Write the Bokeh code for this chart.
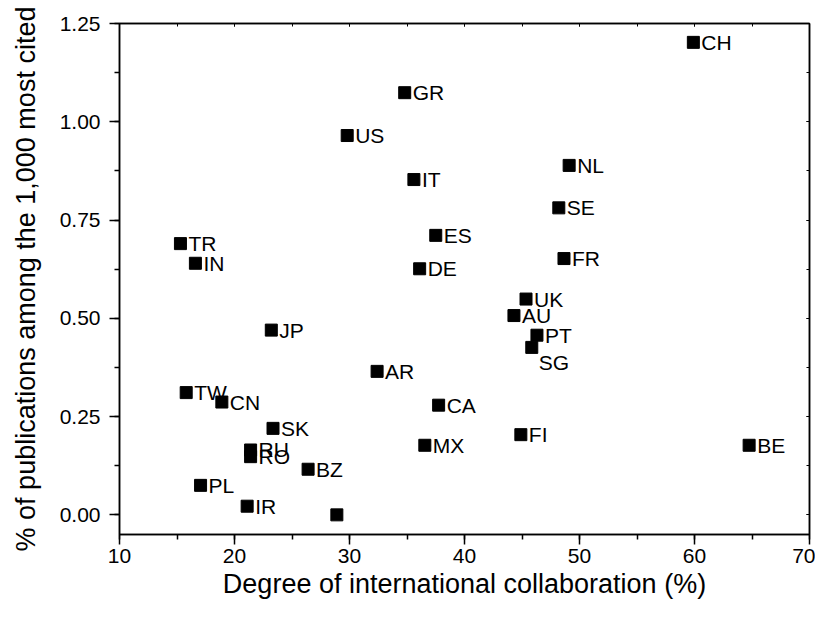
from bokeh.plotting import figure
from bokeh.models import (ColumnDataSource, LinearAxis, SingleIntervalTicker, NumeralTickFormatter,
                          Range1d, CustomJSTickFormatter)
from bokeh.core.properties import value
from bokeh.embed import file_html
from bokeh.resources import INLINE

countries = ["CH", "GR", "US", "IT", "NL", "SE", "ES", "FR", "DE", "TR", "IN",
             "JP", "TW", "CN", "SK", "RU", "RO", "PL", "IR", "UK", "AU", "PT",
             "SG", "AR", "CA", "FI", "MX", "BE", "BZ", ""]
collab = [59.9, 34.8, 29.8, 35.6, 49.1, 48.2, 37.5, 48.65, 36.1, 15.3, 16.6,
          23.2, 15.8, 18.9, 23.35, 21.4, 21.4, 17.05, 21.1, 45.35, 44.3, 46.3,
          45.85, 32.4, 37.75, 44.9, 36.55, 64.75, 26.4, 28.9]
top_cited = [1.202, 1.074, 0.965, 0.853, 0.889, 0.781, 0.711, 0.652, 0.626, 0.690, 0.640,
             0.470, 0.311, 0.287, 0.220, 0.165, 0.148, 0.075, 0.022, 0.549, 0.507, 0.457,
             0.426, 0.365, 0.279, 0.204, 0.177, 0.177, 0.116, 0.000]

FONT = "Liberation Sans"

# label placement (style): default right of marker; SG below-right
x_off = [7 if c == "SG" else 8 for c in countries]
y_off = [15 if c == "SG" else 0 for c in countries]

src = ColumnDataSource(dict(x=collab, y=top_cited, lab=countries, xo=x_off, yo=y_off))

p = figure(width=815, height=602, output_backend="svg", toolbar_location=None,
           x_range=Range1d(10, 70), y_range=Range1d(-0.05, 1.25),
           min_border_left=119, min_border_right=6, min_border_top=23, min_border_bottom=68)

p.xgrid.visible = False
p.ygrid.visible = False
p.outline_line_color = "black"
p.outline_line_width = 1.5
p.background_fill_color = "white"
p.border_fill_color = "white"

p.scatter("x", "y", source=src, marker="square", size=12, fill_color="black", line_color="black")
p.text("x", "y", text="lab", source=src, x_offset="xo", y_offset="yo",
       text_font=value(FONT), text_font_size="21px", text_baseline="middle", text_align="left",
       text_color="black")

xa = p.xaxis[0]
ya = p.yaxis[0]
xa.ticker = SingleIntervalTicker(interval=10, num_minor_ticks=2)
ya.ticker = SingleIntervalTicker(interval=0.25, num_minor_ticks=2)
ya.formatter = NumeralTickFormatter(format="0.00")
xa.axis_label = "Degree of international collaboration (%)"
ya.axis_label = "% of publications among the 1,000 most cited"

for ax in (xa, ya):
    ax.axis_line_width = 1.5
    ax.major_tick_line_width = 1.5
    ax.minor_tick_line_width = 1.5
    ax.major_tick_out = 10
    ax.major_tick_in = 0
    ax.minor_tick_out = 5
    ax.minor_tick_in = 0
    ax.major_label_text_font = FONT
    ax.major_label_text_font_size = "21px"
    ax.major_label_text_color = "black"
    ax.axis_label_text_font = FONT
    ax.axis_label_text_font_style = "normal"
    ax.axis_label_text_color = "black"

ya.axis_label_text_font_size = "27px"
xa.axis_label_text_font_size = "27px"
xa.major_label_standoff = 4
xa.axis_label_standoff = 3
ya.major_label_standoff = 9
ya.axis_label_standoff = 16

for loc in ("above", "right"):
    tk = (SingleIntervalTicker(interval=10, num_minor_ticks=2) if loc == "above"
          else SingleIntervalTicker(interval=0.25, num_minor_ticks=2))
    ax = LinearAxis(ticker=tk, formatter=CustomJSTickFormatter(code="return ''"))
    ax.major_label_standoff = 0
    ax.axis_line_width = 1.5
    ax.major_tick_in = 3
    ax.major_tick_out = 0
    ax.minor_tick_in = 3
    ax.minor_tick_out = 0
    ax.major_tick_line_width = 1
    ax.minor_tick_line_width = 1
    p.add_layout(ax, loc)

open("out.html", "w").write(file_html(p, INLINE))
